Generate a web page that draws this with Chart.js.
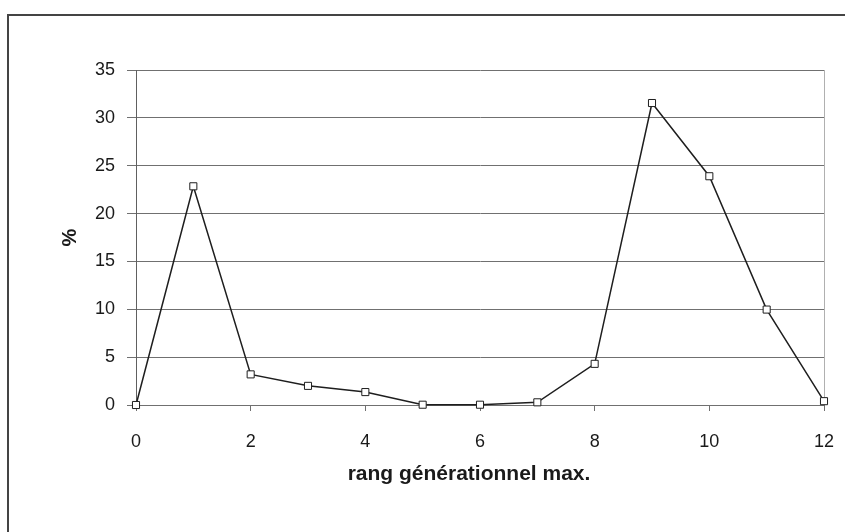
<!DOCTYPE html>
<html>
<head>
<meta charset="utf-8">
<script src="https://cdn.jsdelivr.net/npm/chart.js@4/dist/chart.umd.min.js"></script>
<style>
  html, body { margin: 0; padding: 0; background: #fff; }
  #wrap { position: relative; width: 845px; height: 532px; overflow: hidden; }
  #frame { position: absolute; left: 7px; top: 14px; width: 900px; height: 600px;
           border-top: 2px solid #444; border-left: 2px solid #444; }
  canvas { position: absolute; left: 0; top: 0; }
</style>
</head>
<body>
<div id="wrap">
  <div id="frame"></div>
  <canvas id="myChart" width="845" height="532"></canvas>
</div>
<script>
// rang générationnel max. (x) vs % (y)
const rangs = [0, 1, 2, 3, 4, 5, 6, 7, 8, 9, 10, 11, 12];
const pourcent = [0, 22.85, 3.2, 2.0, 1.35, 0.03, 0.03, 0.28, 4.3, 31.55, 23.9, 9.97, 0.4];

const xTitle = 'rang générationnel max.';
const yTitle = '%';

const family = "'Liberation Sans', Arial, sans-serif";
const tickFont = { family: family, size: 18 };
const titleFont = { family: family, size: 20, weight: 'bold' };

// light border on the right of the plot area + x title (sits a bit left of centre in the original)
const extras = {
    id: 'extras',
    beforeDatasetsDraw(chart) {
        const a = chart.chartArea;
        const ctx = chart.ctx;
        ctx.save();
        ctx.strokeStyle = '#b0b0b0';
        ctx.lineWidth = 1;
        ctx.beginPath();
        ctx.moveTo(a.right + 0.5, a.top);
        ctx.lineTo(a.right + 0.5, a.bottom);
        ctx.stroke();
        ctx.restore();
    },
    afterDraw(chart) {
        const a = chart.chartArea;
        const ctx = chart.ctx;
        ctx.save();
        ctx.fillStyle = '#1a1a1a';
        ctx.font = 'bold 21px ' + family;
        ctx.textAlign = 'center';
        ctx.textBaseline = 'middle';
        ctx.fillText(xTitle, (a.left + a.right) / 2 - 11, a.bottom + 69);
        ctx.restore();
    }
};

new Chart(document.getElementById('myChart'), {
    type: 'line',
    data: {
        datasets: [{
            data: rangs.map((r, i) => ({ x: r, y: pourcent[i] })),
            borderColor: '#1e1e1e',
            borderWidth: 1.5,
            pointStyle: 'rect',
            pointRadius: 5,
            pointBorderWidth: 1,
            pointBorderColor: '#1e1e1e',
            pointBackgroundColor: '#ffffff',
            tension: 0,
            clip: false
        }]
    },
    options: {
        responsive: false,
        animation: false,
        layout: { autoPadding: false, padding: { left: 58, top: 70, right: 21, bottom: 46 } },
        plugins: { legend: { display: false }, tooltip: { enabled: false } },
        scales: {
            x: {
                type: 'linear',
                min: 0,
                max: 12,
                afterFit(scale) { scale.height = 81; scale.paddingRight = 0; },
                ticks: { stepSize: 2, color: '#1a1a1a', font: tickFont, padding: 20, maxRotation: 0 },
                grid: { drawOnChartArea: false, drawTicks: true, tickLength: 6, color: '#707070' },
                border: { display: true, color: '#707070', width: 1 },
                title: { display: false }
            },
            y: {
                min: 0,
                max: 35,
                afterFit(scale) { scale.width = 78; },
                ticks: { stepSize: 5, color: '#1a1a1a', font: tickFont, padding: 12 },
                grid: { color: '#707070', lineWidth: 1, drawTicks: true, tickLength: 9 },
                border: { display: true, color: '#606060', width: 1 },
                title: { display: true, text: yTitle, color: '#1a1a1a', padding: 0, font: titleFont }
            }
        }
    },
    plugins: [extras]
});
</script>
</body>
</html>
